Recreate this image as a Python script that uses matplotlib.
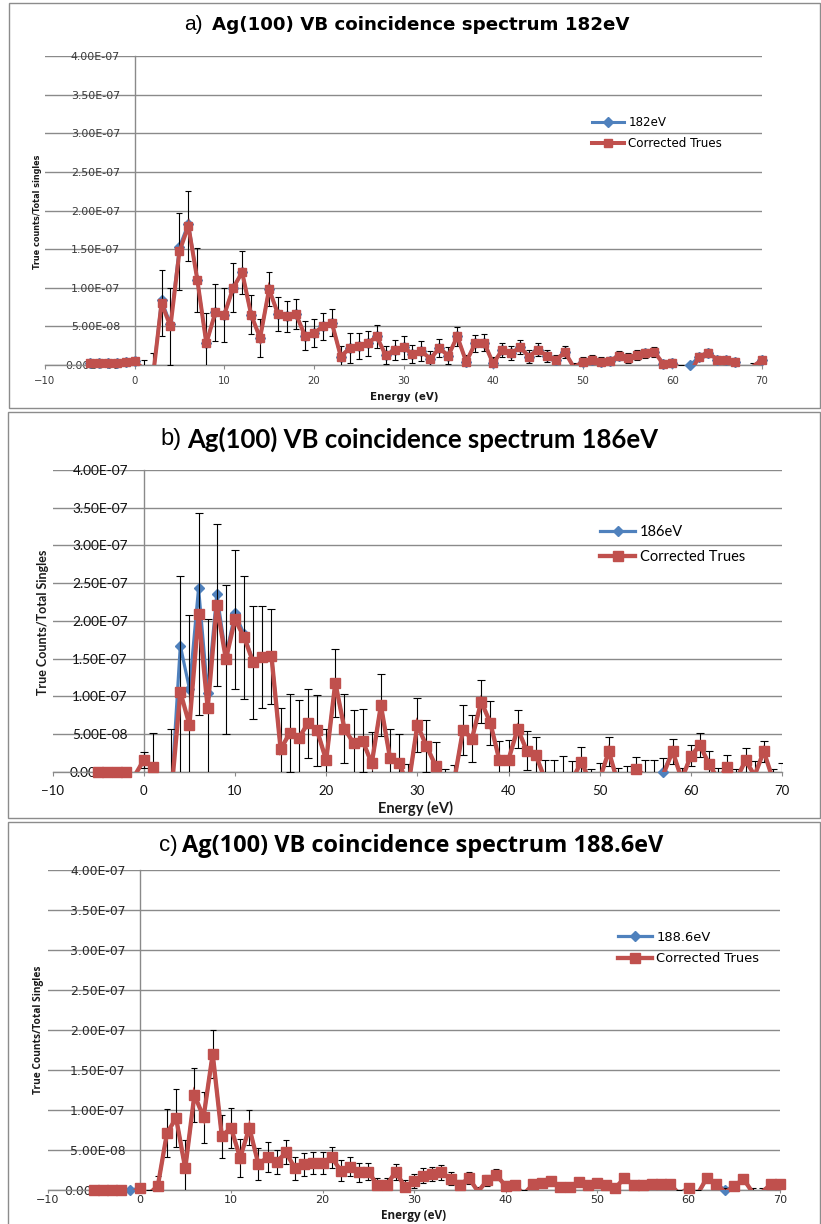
import numpy as np
import matplotlib
matplotlib.use("Agg")
import matplotlib.pyplot as plt
from matplotlib.font_manager import FontProperties
from matplotlib.textpath import TextPath
from matplotlib.lines import Line2D
from matplotlib.patches import Rectangle
from matplotlib.ticker import FuncFormatter

# ---------------- data (values in units of 1e-8) ----------------
SCALE = 1e-8
energy = list(range(-5, 71))

a_raw_182 = [0.2, 0.2, 0.2, 0.2, 0.4, 0.5, -0.5, -2.0, 8.4, 5.3, 15.3, 18.3, 11.0, 2.8, 6.8, 6.5,
             10.0, 12.0, 6.5, 3.5, 9.8, 6.6, 6.3, 6.6, 3.8, 4.1, 5.0, 5.5, 1.1, 2.2, 2.5, 2.8,
             3.7, 1.3, 1.9, 2.3, 1.4, 1.8, 0.8, 2.2, 1.2, 3.7, 0.4, 2.8, 2.9, 0.2, 1.9, 1.5,
             2.3, 1.1, 2.0, 1.2, 0.6, 1.7, -0.3, 0.4, 0.7, 0.4, 0.5, 1.2, 0.9, 1.3, 1.5, 1.7,
             0.1, 0.3, -0.5, 0.0, 1.1, 1.6, 0.7, 0.6, 0.4, -1.0, -0.2, 0.7]
a_corrected = [0.2, 0.2, 0.2, 0.2, 0.4, 0.5, -0.5, -2.0, 8.0, 5.0, 14.7, 18.0, 11.0, 2.8, 6.8, 6.5,
               10.0, 12.0, 6.5, 3.5, 9.8, 6.6, 6.3, 6.6, 3.8, 4.1, 5.0, 5.5, 1.1, 2.2, 2.5, 2.8,
               3.7, 1.3, 1.9, 2.3, 1.4, 1.8, 0.8, 2.2, 1.2, 3.7, 0.4, 2.8, 2.9, 0.2, 1.9, 1.5,
               2.3, 1.1, 2.0, 1.2, 0.6, 1.7, -0.3, 0.4, 0.7, 0.4, 0.5, 1.2, 0.9, 1.3, 1.5, 1.7,
               0.1, 0.3, -0.5, -1.0, 1.1, 1.6, 0.7, 0.6, 0.4, -1.0, -0.2, 0.7]
a_error = [0, 0, 0, 0, 0.3, 0.3, 1.1, 3.6, 4.3, 5.0, 5.0, 4.5, 4.2, 3.9, 3.7, 3.5,
           3.2, 2.8, 2.5, 2.5, 2.2, 2.2, 2.0, 2.0, 1.9, 1.8, 1.7, 1.7, 1.4, 1.9, 1.7, 1.6,
           1.5, 1.2, 1.3, 1.5, 1.2, 1.3, 1.0, 1.2, 1.1, 1.2, 0.9, 1.1, 1.1, 0.8, 0.9, 0.9,
           0.9, 0.8, 0.8, 0.8, 0.7, 0.8, 0.6, 0.6, 0.6, 0.6, 0.6, 0.6, 0.6, 0.6, 0.6, 0.6,
           0.5, 0.5, 0.5, 0.5, 0.5, 0.5, 0.5, 0.5, 0.5, 0.5, 0.5, 0.5]

b_raw_186 = [0, 0, 0, 0, -0.5, 1.55, 0.6, -4.0, -3.0, 16.7, 11.0, 24.3, 10.4, 23.6, 15.4, 21.0,
             18.2, 14.5, 15.2, 15.3, 3.0, 5.1, 4.5, 6.4, 5.5, 1.5, 11.8, 5.7, 3.8, 4.1, 1.1, 8.8,
             1.8, 1.2, -2.0, 6.2, 3.4, 0.8, -2.0, -1.5, 5.5, 4.4, 9.3, 6.5, 1.5, 1.6, 5.7, 2.8,
             2.2, -1.0, -1.0, -0.5, -1.0, 1.3, -1.5, -1.0, 2.7, -1.5, -1.0, 0.3, -0.5, -0.5, 0.0, 2.7,
             -1.0, 2.1, 3.5, 1.0, -1.0, 0.6, -1.0, 1.5, -0.5, 2.7, -1.0, -0.5]
b_corrected = [0, 0, 0, 0, -0.5, 1.55, 0.6, -4.0, -3.0, 10.6, 6.2, 20.9, 8.4, 22.1, 14.9, 20.2,
               17.8, 14.5, 15.2, 15.3, 3.0, 5.1, 4.5, 6.4, 5.5, 1.5, 11.8, 5.7, 3.8, 4.1, 1.1, 8.8,
               1.8, 1.2, -2.0, 6.2, 3.4, 0.8, -2.0, -1.5, 5.5, 4.4, 9.3, 6.5, 1.5, 1.6, 5.7, 2.8,
               2.2, -1.0, -1.0, -0.5, -1.0, 1.3, -1.5, -1.0, 2.7, -1.5, -1.0, 0.3, -0.5, -0.5, -0.3, 2.7,
               -1.0, 2.1, 3.5, 1.0, -1.0, 0.6, -1.0, 1.5, -0.5, 2.7, -1.0, -0.5]
b_error = [0, 0, 0, 0, 0, 1.0, 4.5, 2.0, 8.6, 15.4, 14.6, 13.4, 11.8, 10.7, 9.9, 9.2,
           8.2, 7.5, 6.8, 6.3, 5.4, 5.2, 5.0, 4.6, 4.7, 4.2, 4.5, 4.6, 4.4, 4.2, 4.1, 4.1,
           3.9, 3.8, 3.0, 3.6, 3.4, 3.1, 2.4, 2.4, 3.3, 3.1, 2.9, 2.9, 2.6, 2.6, 2.5, 2.6,
           2.4, 2.6, 2.6, 2.6, 2.4, 2.0, 1.8, 2.2, 1.9, 2.0, 1.8, 1.6, 2.1, 2.1, 2.1, 1.7,
           1.5, 1.4, 1.6, 1.7, 1.5, 1.6, 1.3, 1.7, 1.9, 1.4, 1.3, 1.6]

c_raw_1886 = [0, 0, 0, 0, 0.0, 0.2, -0.5, 0.5, 7.1, 9.0, 2.7, 11.9, 9.1, 17.0, 6.7, 7.8,
              4.0, 7.8, 3.2, 4.1, 3.5, 4.7, 2.7, 3.2, 3.4, 3.4, 4.1, 2.4, 2.9, 2.2, 2.3, 0.6,
              0.6, 2.3, 0.4, 1.1, 1.8, 2.0, 2.2, 1.4, 0.6, 1.5, -0.2, 1.2, 1.9, 0.5, 0.6, -0.5,
              0.7, 0.9, 1.1, 0.4, 0.4, 1.0, 0.6, 0.9, 0.6, 0.25, 1.5, 0.6, 0.6, 0.7, 0.7, 0.7,
              -0.5, 0.25, -0.5, 1.5, 0.8, 0.0, 0.45, 1.4, -0.3, -0.3, 0.7, 0.7]
c_corrected = [0, 0, 0, 0, -0.5, 0.2, -0.5, 0.5, 7.1, 9.0, 2.7, 11.9, 9.1, 17.0, 6.7, 7.8,
               4.0, 7.8, 3.2, 4.1, 3.5, 4.7, 2.7, 3.2, 3.4, 3.4, 4.1, 2.4, 2.9, 2.2, 2.3, 0.6,
               0.6, 2.3, 0.4, 1.1, 1.8, 2.0, 2.2, 1.4, 0.6, 1.5, -0.2, 1.2, 1.9, 0.5, 0.6, -0.5,
               0.7, 0.9, 1.1, 0.4, 0.4, 1.0, 0.6, 0.9, 0.6, 0.25, 1.5, 0.6, 0.6, 0.7, 0.7, 0.7,
               -0.5, 0.25, -0.5, 1.5, 0.8, -0.3, 0.45, 1.4, -0.3, -0.3, 0.7, 0.7]
c_error = [0, 0, 0, 0, 0, 0.2, 0.5, 1.3, 3.0, 3.6, 3.6, 3.4, 3.2, 3.0, 2.7, 2.5,
           2.4, 2.2, 2.0, 1.9, 1.5, 1.5, 1.4, 1.4, 1.4, 1.4, 1.3, 1.3, 1.2, 1.2, 1.1, 0.9,
           0.9, 1.0, 0.9, 0.9, 0.9, 0.9, 0.9, 0.8, 0.7, 0.8, 0.6, 0.7, 0.7, 0.6, 0.5, 0.5,
           0.5, 0.5, 0.5, 0.5, 0.5, 0.5, 0.5, 0.5, 0.5, 0.5, 0.5, 0.5, 0.5, 0.5, 0.5, 0.5,
           0.5, 0.5, 0.5, 0.5, 0.5, 0.5, 0.5, 0.5, 0.5, 0.5, 0.5, 0.5]

titles_prefix = ["a)", "b)", "c)"]
titles_main = ["Ag(100) VB coincidence spectrum 182eV",
               "Ag(100) VB coincidence spectrum 186eV",
               "Ag(100) VB coincidence spectrum 188.6eV"]
legend_raw = ["182eV", "186eV", "188.6eV"]
legend_corr = "Corrected Trues"
ylabels = ["True counts/Total singles", "True Counts/Total Singles", "True Counts/Total Singles"]
xlabel = "Energy (eV)"
xticks = [-10, 0, 10, 20, 30, 40, 50, 60, 70]
yticks = [0, 5e-8, 1e-7, 1.5e-7, 2e-7, 2.5e-7, 3e-7, 3.5e-7, 4e-7]

# ---------------- layout ----------------
W, H = 821, 1224
BLUE = "#4F81BD"
RED = "#C0504D"
GRID = "#8a8a8a"

fig = plt.figure(figsize=(W / 100, H / 100), dpi=100)


def fx(px):
    return px / W


def fy(py):
    return 1 - py / H


def fit(s, family, weight, target_px):
    fp = FontProperties(family=family, weight=weight)
    w = TextPath((0, 0), s, size=10, prop=fp).get_extents().width
    return 10 * target_px * 0.72 / w


panels = [
    dict(raw=a_raw_182, cor=a_corrected, err=a_error,
         box=(9, 3, 820, 408), ax=(45, 56, 762, 365),
         pre=(203, 25, 15), main=(212, 631, 25), mainfont="DejaVu Sans",
         tickfont="DejaVu Sans", ytick_px=48, xtick_sz=7.3, ypad=10.5, xpad=5, xtl=3,
         tickcol="#3a3a3a",
         xl=(404, 397, 66), yl=(37, 212, 113), labfont="DejaVu Sans",
         leg=(592, 133, 92, 0.7, 2.7), lw_r=2.9, ms_r=5.8, lw_b=2.2, ms_b=4.8, cap=2.2),
    dict(raw=b_raw_186, cor=b_corrected, err=b_error,
         box=(8, 412, 820, 818), ax=(52.7, 470, 782, 771.7),
         pre=(182, 439, 17), main=(187, 657, 439), mainfont="Lato",
         tickfont="Lato", ytick_px=55, xtick_sz=9.5, ypad=11.5, xpad=6.5, xtl=3,
         tickcol="#111111",
         xl=(416, 808, 73), yl=(43, 622, 145), labfont="Lato",
         leg=(600, 544.5, 103, 0.8, 2.4), lw_r=3.1, ms_r=6.5, lw_b=2.3, ms_b=5.5, cap=2.6),
    dict(raw=c_raw_1886, cor=c_corrected, err=c_error,
         box=(8, 822, 820, 1232), ax=(48, 870, 780, 1190),
         pre=(178, 846, 16), main=(182, 662, 846), mainfont="Open Sans",
         tickfont="DejaVu Sans", ytick_px=54, xtick_sz=8.0, ypad=10, xpad=1.5, xtl=2,
         tickcol="#2a2a2a",
         xl=(414, 1216, 64), yl=(38, 1030, 128), labfont="Open Sans",
         leg=(618, 948, 101, 0.65, 2.6), lw_r=3.1, ms_r=6.5, lw_b=2.3, ms_b=5.5, cap=2.4),
]

x = np.array(energy, dtype=float)

for i, P in enumerate(panels):
    # panel border
    bx0, by0, bx1, by1 = P["box"]
    fig.add_artist(Rectangle((fx(bx0), fy(by1)), fx(bx1) - fx(bx0), fy(by0) - fy(by1),
                             transform=fig.transFigure, fill=False, edgecolor="#8c8c8c",
                             lw=1.0, clip_on=False))
    l, t, r, b = P["ax"]
    ax = fig.add_axes([fx(l), fy(b), fx(r) - fx(l), fy(t) - fy(b)])
    ax.set_xlim(-10, 70)
    ax.set_ylim(0, 4e-7)
    ax.set_facecolor("none")

    raw = np.array(P["raw"]) * SCALE
    cor = np.array(P["cor"]) * SCALE
    err = np.array(P["err"]) * SCALE

    # blue series
    ax.plot(x, raw, color=BLUE, lw=P["lw_b"], zorder=3, solid_joinstyle="miter")
    m = raw >= 0
    ax.plot(x[m], raw[m], ls="none", marker="D", ms=P["ms_b"], color=BLUE,
            clip_on=False, zorder=3)
    # error bars on corrected series
    me = err > 0
    ax.errorbar(x[me], cor[me], yerr=err[me], fmt="none", ecolor="black",
                elinewidth=0.8, capsize=P["cap"], capthick=0.8, zorder=4)
    # red series
    ax.plot(x, cor, color=RED, lw=P["lw_r"], zorder=5, solid_joinstyle="miter")
    m = cor >= 0
    ax.plot(x[m], cor[m], ls="none", marker="s", ms=P["ms_r"], color=RED,
            clip_on=False, zorder=5)

    # axes styling
    for s in ["top", "right"]:
        ax.spines[s].set_visible(False)
    ax.spines["left"].set_position(("data", 0))
    ax.spines["left"].set_color(GRID)
    ax.spines["bottom"].set_color(GRID)
    ax.spines["left"].set_linewidth(1.0)
    ax.spines["bottom"].set_linewidth(1.0)
    ax.set_yticks(yticks)
    ax.set_xticks(xticks)
    ax.yaxis.set_major_formatter(FuncFormatter(lambda v, p: "{:.2E}".format(v)))
    ax.grid(axis="y", color=GRID, lw=1.0)
    ax.set_axisbelow(True)
    ysz = fit("4.00E-07", P["tickfont"], "normal", P["ytick_px"])
    ax.tick_params(axis="y", length=0, pad=P["ypad"], labelsize=ysz,
                   labelcolor=P["tickcol"])
    ax.tick_params(axis="x", length=P["xtl"], width=0.8, color=GRID, direction="out",
                   pad=P["xpad"], labelsize=P["xtick_sz"], labelcolor=P["tickcol"])
    for lab in ax.get_xticklabels() + ax.get_yticklabels():
        lab.set_family(P["tickfont"])

    # titles
    px, py, psz = P["pre"]
    fig.text(fx(px), fy(py), titles_prefix[i], ha="right", va="center",
             fontsize=psz, family="Liberation Sans", color="black")
    mx0, mx1, my = P["main"]
    msz = fit(titles_main[i], P["mainfont"], "bold", mx1 - mx0)
    fig.text(fx(mx0), fy(my), titles_main[i], ha="left", va="center",
             fontsize=msz, fontweight="bold", family=P["mainfont"], color="black")

    # axis labels
    xlx, xly, xlw = P["xl"]
    fig.text(fx(xlx), fy(xly), xlabel, ha="center", va="center",
             fontsize=fit(xlabel, P["labfont"], "bold", xlw), fontweight="bold",
             family=P["labfont"], color="#1a1a1a")
    ylx, yly, ylh = P["yl"]
    fig.text(fx(ylx), fy(yly), ylabels[i], ha="center", va="center", rotation=90,
             fontsize=fit(ylabels[i], P["labfont"], "bold", ylh), fontweight="bold",
             family=P["labfont"], color="#1a1a1a")

    # legend
    lgx, lgy, lgw, lsp, hl = P["leg"]
    lsz = fit(legend_corr, P["tickfont"], "normal", lgw)
    h1 = Line2D([], [], color=BLUE, lw=P["lw_b"], marker="D", ms=P["ms_b"])
    h2 = Line2D([], [], color=RED, lw=P["lw_r"], marker="s", ms=P["ms_r"])
    ax.legend([h1, h2], [legend_raw[i], legend_corr], loc="center left",
              bbox_to_anchor=(fx(lgx), fy(lgy)), bbox_transform=fig.transFigure,
              frameon=False, handlelength=hl, handletextpad=0.35,
              labelspacing=lsp, borderpad=0, borderaxespad=0,
              prop=dict(family=P["tickfont"], size=lsz))

fig.savefig("out.png", dpi=100)
